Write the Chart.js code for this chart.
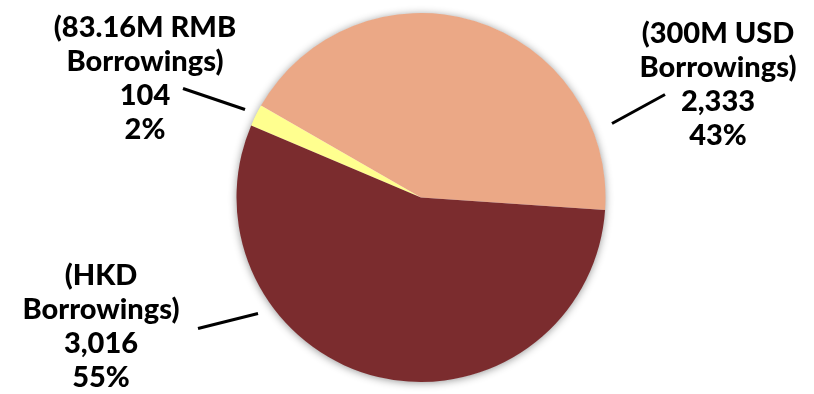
<!DOCTYPE html>
<html>
<head>
<meta charset="utf-8">
<script src="https://cdn.jsdelivr.net/npm/chart.js@4/dist/chart.umd.min.js"></script>
<style>
  html, body { margin: 0; padding: 0; background: #fff; }
  #wrap { width: 814px; height: 394px; position: relative; }
</style>
</head>
<body>
<div id="wrap"><canvas id="pie"></canvas></div>
<script>
// borrowings by currency
const categories = ['(83.16M RMB Borrowings)', '(300M USD Borrowings)', '(HKD Borrowings)'];
const nameLines = [['(83.16M RMB', 'Borrowings)'], ['(300M USD', 'Borrowings)'], ['(HKD', 'Borrowings)']];
const amounts = [104, 2333, 3016];
const colors = ['#FFFF8F', '#EBA886', '#7B2C2E'];

// label placement relative to the pie centre: text anchor + leader line ends
const labelSpots = [
  { dx: -276, dy: -170, line: [-238, -109, -176, -88] },
  { dx: 297, dy: -164, line: [191, -74, 244, -103] },
  { dx: -320, dy: 78, line: [-223, 131, -163, 116] }
];

const total = amounts.reduce((a, b) => a + b, 0);
const fmt = n => n.toLocaleString('en-US');

const pieShadow = {
  id: 'pieShadow',
  beforeDatasetsDraw(chart) {
    const arc = chart.getDatasetMeta(0).data[0];
    if (!arc) return;
    const ctx = chart.ctx;
    ctx.save();
    ctx.shadowColor = 'rgba(0,0,0,0.45)';
    ctx.shadowBlur = 9;
    ctx.shadowOffsetY = 1;
    ctx.fillStyle = '#fff';
    ctx.beginPath();
    ctx.arc(arc.x, arc.y, arc.outerRadius - 0.5, 0, Math.PI * 2);
    ctx.fill();
    ctx.restore();
  }
};

const sliceLabels = {
  id: 'sliceLabels',
  afterDatasetsDraw(chart) {
    const meta = chart.getDatasetMeta(0);
    const ctx = chart.ctx;
    ctx.save();
    ctx.font = '900 29px Lato';
    ctx.fillStyle = '#000';
    ctx.textAlign = 'center';
    ctx.textBaseline = 'middle';
    meta.data.forEach((arc, i) => {
      const spot = labelSpots[i];
      const cx = arc.x, cy = arc.y;
      const lines = nameLines[i].concat([fmt(amounts[i]), Math.round(amounts[i] / total * 100) + '%']);
      lines.forEach((t, k) => ctx.fillText(t, cx + spot.dx, cy + spot.dy + k * 34));
      ctx.strokeStyle = '#000';
      ctx.lineWidth = 3;
      ctx.beginPath();
      ctx.moveTo(cx + spot.line[0], cy + spot.line[1]);
      ctx.lineTo(cx + spot.line[2], cy + spot.line[3]);
      ctx.stroke();
    });
    ctx.restore();
  }
};

new Chart(document.getElementById('pie'), {
  type: 'pie',
  data: {
    labels: categories,
    datasets: [{
      data: amounts,
      backgroundColor: colors,
      borderWidth: 0
    }]
  },
  options: {
    responsive: true,
    maintainAspectRatio: false,
    animation: false,
    rotation: -67,
    layout: { padding: { top: 13, bottom: 12, left: 28, right: 0 } },
    plugins: {
      legend: { display: false },
      tooltip: { enabled: false }
    }
  },
  plugins: [pieShadow, sliceLabels]
});
</script>
</body>
</html>
